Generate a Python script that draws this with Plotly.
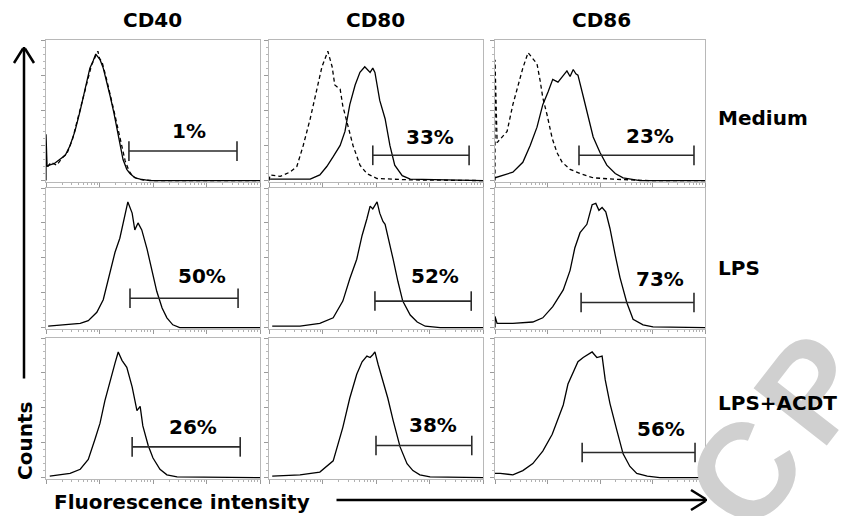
import math
import plotly.graph_objects as go

W, H = 841, 516

# ---------------- data (x = log10 fluorescence, y = relative counts) ----------------
columns = ["CD40", "CD80", "CD86"]
rows = ["Medium", "LPS", "LPS+ACDT"]

# Medium
cd40_med_x = [0.0, 0.0, 0.02, 0.06, 0.15, 0.26, 0.36, 0.45, 0.54, 0.64, 0.71, 0.77, 0.82, 0.88, 0.93, 0.97, 1.01, 1.07, 1.14, 1.20, 1.27, 1.33, 1.38, 1.44, 1.51, 1.57, 1.66, 1.76, 1.94, 4.0]
cd40_med_y = [0, 33, 10, 11, 12, 15, 18, 25, 35, 50, 62, 72, 80, 85, 90, 88, 86, 80, 70, 60, 48, 37, 26, 15, 8, 5, 2, 1, 0, 0]
cd40_iso_x = [0.03, 0.1, 0.2, 0.3, 0.4, 0.5, 0.6, 0.7, 0.78, 0.85, 0.92, 0.97, 1.0, 1.05, 1.12, 1.2, 1.28, 1.35, 1.42, 1.48, 1.55, 1.62, 1.7, 1.8, 2.0, 4.0]
cd40_iso_y = [10, 13, 11, 16, 20, 30, 45, 60, 72, 82, 88, 92, 87, 84, 74, 62, 48, 36, 24, 14, 7, 3, 1.5, 0.5, 0, 0]

cd80_iso_x = [0.0, 0.02, 0.21, 0.39, 0.52, 0.64, 0.77, 0.90, 0.99, 1.10, 1.18, 1.23, 1.33, 1.38, 1.48, 1.57, 1.70, 1.83, 2.02, 2.64, 4.0]
cd80_iso_y = [0, 4, 3, 6, 10, 25, 44, 65, 81, 92, 81, 68, 65, 53, 39, 25, 11, 5, 1.5, 0.5, 0]
cd80_med_x = [0.02, 0.77, 0.95, 1.08, 1.20, 1.33, 1.42, 1.51, 1.61, 1.70, 1.79, 1.85, 1.89, 1.94, 1.98, 2.07, 2.17, 2.26, 2.35, 2.49, 2.64, 4.0]
cd80_med_y = [1, 1, 4, 10, 17, 25, 35, 54, 68, 77, 81, 79, 77, 80, 77, 57, 44, 25, 11, 3.5, 1, 0]

cd86_iso_x = [0.0, 0.0, 0.04, 0.23, 0.34, 0.44, 0.53, 0.63, 0.72, 0.80, 0.86, 0.91, 0.99, 1.09, 1.18, 1.28, 1.43, 1.62, 1.87, 2.25, 2.95, 4.0]
cd86_iso_y = [0, 86, 27, 35, 54, 68, 80, 91, 87, 83, 71, 59, 47, 30, 20, 13, 8, 5, 2, 1, 0, 0]
cd86_med_x = [0.0, 0.34, 0.53, 0.67, 0.80, 0.91, 1.01, 1.10, 1.20, 1.29, 1.37, 1.43, 1.49, 1.54, 1.58, 1.68, 1.77, 1.87, 2.0, 2.13, 2.29, 2.44, 2.76, 4.0]
cd86_med_y = [2, 6, 13, 25, 38, 54, 63, 72, 70, 74, 78, 74, 79, 76, 75, 60, 47, 31, 20, 11, 5, 2, 0, 0]

# LPS
cd40_lps_x = [0.04, 0.39, 0.64, 0.79, 0.95, 1.07, 1.20, 1.29, 1.38, 1.44, 1.53, 1.61, 1.66, 1.72, 1.79, 1.89, 1.98, 2.07, 2.17, 2.26, 2.37, 2.50, 4.0]
cd40_lps_y = [1, 2, 3, 5, 11, 20, 40, 54, 64, 75, 90, 82, 70, 75, 70, 56, 42, 26, 14, 7, 2, 0, 0]
cd80_lps_x = [0.06, 0.58, 0.95, 1.20, 1.38, 1.51, 1.64, 1.74, 1.83, 1.89, 1.94, 2.02, 2.07, 2.13, 2.17, 2.22, 2.32, 2.41, 2.50, 2.64, 2.77, 2.92, 3.2, 4.0]
cd80_lps_y = [1, 1, 3, 7, 19, 35, 49, 66, 78, 87, 85, 90, 82, 76, 74, 66, 49, 33, 19, 9, 4, 1, 0, 0]
cd86_lps_x = [0.0, 0.0, 0.04, 0.34, 0.72, 0.91, 1.10, 1.30, 1.43, 1.52, 1.62, 1.75, 1.85, 1.92, 1.98, 2.04, 2.11, 2.19, 2.29, 2.38, 2.51, 2.63, 2.82, 3.01, 4.0]
cd86_lps_y = [0, 8, 3, 3, 4, 7, 15, 27, 41, 57, 68, 74, 88, 89, 84, 86, 83, 71, 52, 36, 18, 6, 2, 0.5, 0]

# LPS + ACDT
cd40_acdt_x = [0.07, 0.45, 0.64, 0.79, 0.92, 1.01, 1.10, 1.20, 1.29, 1.35, 1.38, 1.42, 1.51, 1.61, 1.70, 1.76, 1.81, 1.91, 2.00, 2.13, 2.26, 2.45, 4.0]
cd40_acdt_y = [1, 3, 6, 13, 28, 39, 55, 70, 82, 90, 87, 84, 79, 65, 48, 51, 37, 23, 14, 6, 2, 0.5, 0]
cd80_acdt_x = [0.06, 0.58, 0.95, 1.20, 1.38, 1.51, 1.64, 1.74, 1.83, 1.89, 1.94, 1.98, 2.04, 2.13, 2.22, 2.32, 2.45, 2.58, 2.69, 2.82, 3.01, 4.0]
cd80_acdt_y = [1, 2, 4, 12, 36, 57, 74, 83, 87, 86, 88, 90, 81, 69, 57, 41, 22, 10, 5, 2, 0.5, 0]
cd86_acdt_x = [0.0, 0.10, 0.34, 0.53, 0.72, 0.91, 1.09, 1.18, 1.30, 1.39, 1.49, 1.58, 1.68, 1.77, 1.85, 1.94, 2.04, 2.10, 2.19, 2.32, 2.44, 2.57, 2.70, 2.90, 3.14, 4.0]
cd86_acdt_y = [3, 3, 2, 5, 10, 19, 31, 40, 52, 67, 76, 83, 86, 88, 90, 86, 87, 70, 53, 34, 17, 8, 3, 1, 0, 0]

# gates (row-major: Medium CD40, CD80, CD86, LPS ..., LPS+ACDT ...)
gate_lo = [1.55, 1.94, 1.60, 1.57, 1.98, 1.64, 1.61, 2.00, 1.66]
gate_hi = [3.57, 3.74, 3.79, 3.59, 3.78, 3.79, 3.63, 3.79, 3.81]
gate_level = [21, 18, 18, 21, 19, 18, 22, 23, 18]
pct_labels = ["1%", "33%", "23%", "50%", "52%", "73%", "26%", "38%", "56%"]
pct_x = [2.67, 3.01, 2.95, 2.92, 3.10, 3.14, 2.75, 3.07, 3.16]
pct_y = [35, 31, 32, 37, 37, 35, 36, 38, 35]

solid_curves = [(cd40_med_x, cd40_med_y), (cd80_med_x, cd80_med_y), (cd86_med_x, cd86_med_y),
                (cd40_lps_x, cd40_lps_y), (cd80_lps_x, cd80_lps_y), (cd86_lps_x, cd86_lps_y),
                (cd40_acdt_x, cd40_acdt_y), (cd80_acdt_x, cd80_acdt_y), (cd86_acdt_x, cd86_acdt_y)]
dashed_curves = {0: (cd40_iso_x, cd40_iso_y), 1: (cd80_iso_x, cd80_iso_y), 2: (cd86_iso_x, cd86_iso_y)}

# ---------------- layout geometry ----------------
col_px = [(46, 260), (269, 483), (495, 705)]
row_px = [(40, 182), (188, 329), (338, 479)]


def px(x):
    return x / W


def py(y):
    return 1 - y / H


FONT = "DejaVu Sans"
FS = 20
fig = go.Figure()
layout = {}
annotations = []

minor_vals = [d + math.log10(k) for d in range(4) for k in range(2, 10)]

# watermark (drawn first, under everything else)
for ch, cx, cy in [("C", 745, 472), ("P", 812, 388)]:
    annotations.append(dict(text=ch, x=px(cx), y=py(cy), xref="paper", yref="paper",
                            showarrow=False, textangle=-52,
                            font=dict(family="Liberation Sans", size=135, color="#d0d0d0", weight="bold"),
                            xanchor="center", yanchor="middle"))

for i in range(9):
    r, c = divmod(i, 3)
    sfx = "" if i == 0 else str(i + 1)
    xa, ya = "x" + sfx, "y" + sfx
    x0, x1 = col_px[c]
    y0, y1 = row_px[r]
    layout["xaxis" + sfx] = dict(domain=[px(x0), px(x1)], range=[0, 4], anchor=ya,
                                 showgrid=False, zeroline=False, showline=True, mirror=True,
                                 linecolor="#b8b8b8", linewidth=1,
                                 tickmode="array", tickvals=[0, 1, 2, 3, 4], ticks="outside",
                                 ticklen=4, tickcolor="#9a9a9a", tickwidth=1, showticklabels=False,
                                 minor=dict(tickmode="array", tickvals=minor_vals, ticks="outside",
                                            ticklen=2, tickcolor="#b0b0b0", tickwidth=1),
                                 fixedrange=True)
    layout["yaxis" + sfx] = dict(domain=[py(y1), py(y0)], range=[-1, 100], anchor=xa,
                                 showgrid=False, zeroline=False, showline=True, mirror=True,
                                 linecolor="#b8b8b8", linewidth=1,
                                 dtick=25, tick0=0, ticks="outside", ticklen=4,
                                 tickcolor="#9a9a9a", showticklabels=False,
                                 minor=dict(dtick=5, ticks="outside", ticklen=2, tickcolor="#b8b8b8"),
                                 fixedrange=True)
    if i in dashed_curves:
        dx, dy = dashed_curves[i]
        fig.add_trace(go.Scatter(x=dx, y=dy, mode="lines", xaxis=xa, yaxis=ya,
                                 line=dict(color="black", width=1.3, dash="4px,3px"),
                                 showlegend=False, hoverinfo="skip"))
    sx, sy = solid_curves[i]
    fig.add_trace(go.Scatter(x=sx, y=sy, mode="lines", xaxis=xa, yaxis=ya,
                             line=dict(color="black", width=1.3),
                             showlegend=False, hoverinfo="skip"))
    # gate marker
    lo, hi, lv = gate_lo[i], gate_hi[i], gate_level[i]
    tick = 7
    fig.add_trace(go.Scatter(x=[lo, lo, None, lo, hi, None, hi, hi],
                             y=[lv - tick, lv + tick, None, lv, lv, None, lv - tick, lv + tick],
                             mode="lines", xaxis=xa, yaxis=ya,
                             line=dict(color="#2a2a2a", width=1.6),
                             showlegend=False, hoverinfo="skip"))
    annotations.append(dict(text=pct_labels[i], x=pct_x[i], y=pct_y[i], xref=xa, yref=ya,
                            showarrow=False, xanchor="center", yanchor="middle",
                            font=dict(family=FONT, size=FS, color="black", weight="bold")))

# column titles
for c, name in enumerate(columns):
    cx = [152, 375, 601][c]
    annotations.append(dict(text=name, x=px(cx), y=py(20), xref="paper", yref="paper",
                            showarrow=False, xanchor="center", yanchor="middle",
                            font=dict(family=FONT, size=FS, color="black", weight="bold")))
# row labels
for r, name in enumerate(rows):
    cy = [118, 268, 403][r]
    annotations.append(dict(text=name, x=px(716), y=py(cy), xref="paper", yref="paper",
                            showarrow=False, xanchor="left", yanchor="middle",
                            font=dict(family=FONT, size=FS, color="black", weight="bold")))

# axis captions
annotations.append(dict(text="Counts", x=px(25), y=py(441), xref="paper", yref="paper",
                        showarrow=False, textangle=-90, xanchor="center", yanchor="middle",
                        font=dict(family=FONT, size=FS, color="black", weight="bold")))
annotations.append(dict(text="Fluorescence intensity", x=px(52), y=py(502), xref="paper", yref="paper",
                        showarrow=False, xanchor="left", yanchor="middle",
                        font=dict(family=FONT, size=FS, color="black", weight="bold")))


# big arrows drawn as headless annotation lines (so they sit above the watermark)
def seg(xa_, ya_, xb, yb, w=2.5):
    annotations.append(dict(text="", x=px(xb), y=py(yb), ax=xa_ - xb, ay=ya_ - yb,
                            xref="paper", yref="paper", axref="pixel", ayref="pixel",
                            showarrow=True, arrowhead=0, arrowwidth=w, arrowcolor="black",
                            standoff=0, startstandoff=0))


seg(24, 380, 24, 47)
seg(24, 47, 14, 63)
seg(24, 47, 34, 63)
seg(335, 500, 707, 500)
seg(707, 500, 691, 490)
seg(707, 500, 691, 510)

fig.update_layout(**layout)
fig.update_layout(width=W, height=H, margin=dict(l=0, r=0, t=0, b=0),
                  paper_bgcolor="white", plot_bgcolor="white",
                  annotations=annotations, showlegend=False)

fig.write_html("out.html", config={"displayModeBar": False})

# remove the browser's default 8px body margin so the figure fills the window exactly
with open("out.html", "r", encoding="utf-8") as f:
    html = f.read()
html = html.replace("<body>", '<body style="margin:0;padding:0;overflow:hidden">', 1)
with open("out.html", "w", encoding="utf-8") as f:
    f.write(html)
